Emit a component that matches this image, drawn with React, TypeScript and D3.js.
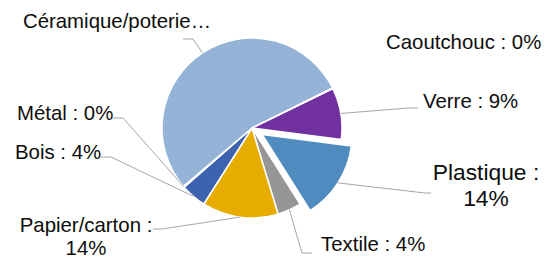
import React, { useRef, useEffect } from 'react';
import * as d3 from 'd3';

// slices, clockwise starting from the first slice angle
const categories = ['Verre', 'Plastique', 'Textile', 'Papier/carton', 'Bois', 'Métal', 'Céramique/poterie', 'Caoutchouc'];
const shares = [9.3, 14, 4.3, 13.7, 4.6, 0.2, 54, 0.1];
const labelTexts = [
  ['Verre : 9%'],
  ['Plastique :', '14%'],
  ['Textile : 4%'],
  ['Papier/carton :', '14%'],
  ['Bois : 4%'],
  ['Métal : 0%'],
  ['Céramique/poterie…'],
  ['Caoutchouc : 0%'],
];
const colors = ['#7030a0', '#4f8bbf', '#969696', '#e6ad00', '#3d62ae', '#3d62ae', '#95b3d7', '#c0504d'];
const exploded = ['Plastique'];

// label placement (Excel layout), x/y = first baseline
const labelLayout = [
  { x: 423, y: 108, anchor: 'start', size: 20.4, lh: 24, knee: [408, 108], tip: [418, 108] },
  { x: 486, y: 180, anchor: 'middle', size: 22.8, lh: 26, knee: [425, 193], tip: [431, 193] },
  { x: 321, y: 251, anchor: 'start', size: 20.4, lh: 24, knee: [302, 253], tip: [312, 253] },
  { x: 86, y: 232, anchor: 'middle', size: 20.4, lh: 23, knee: [162, 229], tip: [153, 229] },
  { x: 15, y: 159, anchor: 'start', size: 20.4, lh: 24, knee: [111, 157], tip: [101, 157] },
  { x: 17, y: 120, anchor: 'start', size: 20.4, lh: 24, knee: [123, 118], tip: [113, 118] },
  { x: 117, y: 28, anchor: 'middle', size: 20.4, lh: 24, knee: [193, 39], tip: [183, 39] },
  { x: 386, y: 49, anchor: 'start', size: 20.4, lh: 24, knee: null, tip: null },
];

const App = () => {
  const svgRef = useRef(null);

  useEffect(() => {
    const w = 555;
    const h = 260;
    const cx = 252;
    const cy = 128;
    const r = 90;
    const offset = 12;

    const svg = d3.select(svgRef.current).attr('width', w).attr('height', h);
    svg.selectAll('*').remove();

    const pie = d3.pie<number>()
      .sort(null)
      .value(d => d)
      .startAngle((64 * Math.PI) / 180)
      .endAngle((424 * Math.PI) / 180);
    const arcs = pie(shares);

    const arc = d3.arc<d3.PieArcDatum<number>>().innerRadius(0).outerRadius(r);

    const shift = (d, i) => {
      if (!exploded.includes(categories[i])) return [0, 0];
      const a = (d.startAngle + d.endAngle) / 2;
      return [offset * Math.sin(a), -offset * Math.cos(a)];
    };

    const g = svg.append('g').attr('transform', `translate(${cx},${cy})`);

    g.selectAll('path')
      .data(arcs)
      .join('path')
      .attr('d', arc)
      .attr('transform', (d, i) => {
        const [dx, dy] = shift(d, i);
        return `translate(${dx},${dy})`;
      })
      .attr('fill', (d, i) => colors[i])
      .attr('stroke', '#fff')
      .attr('stroke-width', 1.5)
      .attr('stroke-linejoin', 'round');

    // leader lines
    arcs.forEach((d, i) => {
      const lay = labelLayout[i];
      if (!lay.knee) return;
      const a = (d.startAngle + d.endAngle) / 2;
      const [dx, dy] = shift(d, i);
      const sx = cx + dx + r * Math.sin(a);
      const sy = cy + dy - r * Math.cos(a);
      svg.append('polyline')
        .attr('points', `${sx},${sy} ${lay.knee[0]},${lay.knee[1]} ${lay.tip[0]},${lay.tip[1]}`)
        .attr('fill', 'none')
        .attr('stroke', '#a6a6a6')
        .attr('stroke-width', 1);
    });

    // labels
    labelTexts.forEach((lines, i) => {
      const lay = labelLayout[i];
      const t = svg.append('text')
        .attr('text-anchor', lay.anchor)
        .attr('font-family', '"Liberation Sans", Arial, sans-serif')
        .attr('font-size', lay.size)
        .attr('fill', '#0d0d0d');
      lines.forEach((line, j) => {
        t.append('tspan').attr('x', lay.x).attr('y', lay.y + j * lay.lh).text(line);
      });
    });
  }, []);

  return (
    <div style={{ position: 'absolute', left: 0, top: 0 }}>
      <svg ref={svgRef} style={{ display: 'block' }}></svg>
    </div>
  );
};

export default App;
